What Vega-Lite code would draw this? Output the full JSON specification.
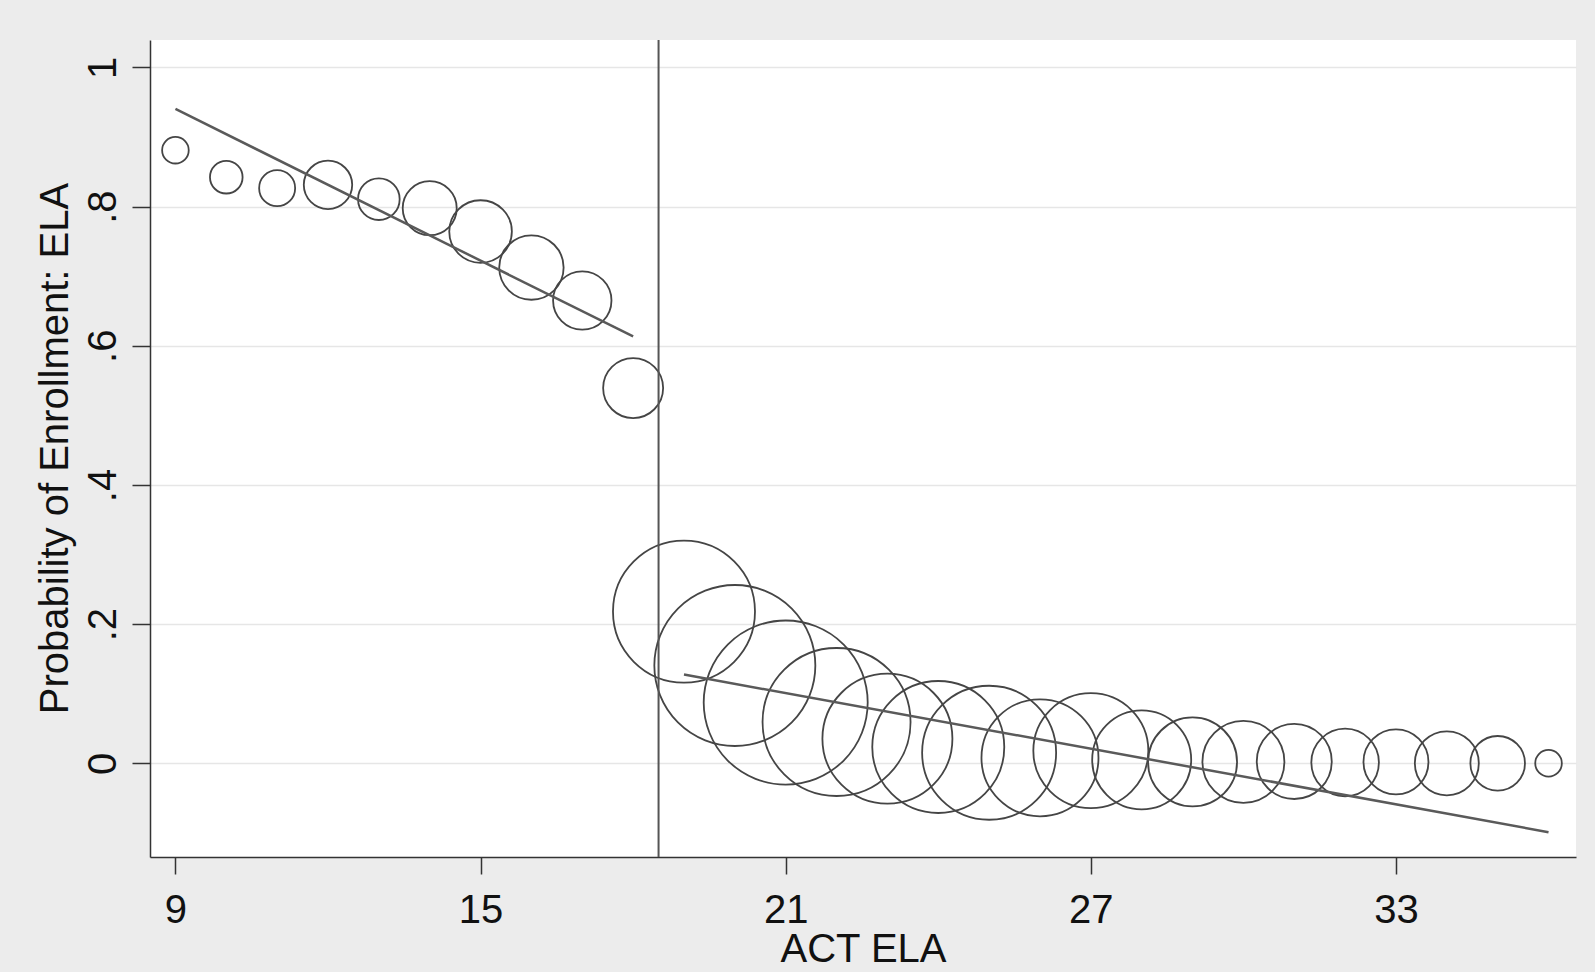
{
  "$schema": "https://vega.github.io/schema/vega-lite/v6.json",
  "width": 1426,
  "height": 817,
  "autosize": {"type": "none"},
  "padding": {"left": 150, "top": 40, "right": 19, "bottom": 115},
  "background": "#ececec",
  "config": {
    "view": {"fill": "white", "stroke": null},
    "font": "Liberation Sans",
    "axis": {
      "labelFont": "Liberation Sans",
      "titleFont": "Liberation Sans",
      "labelFontSize": 40,
      "titleFontSize": 40,
      "titleFontWeight": "normal",
      "labelColor": "#111111",
      "titleColor": "#111111",
      "domainColor": "#333333",
      "domainWidth": 1.5,
      "tickColor": "#333333",
      "tickWidth": 1.5
    }
  },
  "datasets": {
    "bins": [
      {"act": 9, "prob": 0.8811, "n": 177},
      {"act": 10, "prob": 0.8423, "n": 266},
      {"act": 11, "prob": 0.8265, "n": 324},
      {"act": 12, "prob": 0.8313, "n": 586},
      {"act": 13, "prob": 0.8107, "n": 433},
      {"act": 14, "prob": 0.7978, "n": 729},
      {"act": 15, "prob": 0.7642, "n": 980},
      {"act": 16, "prob": 0.7125, "n": 1037},
      {"act": 17, "prob": 0.6651, "n": 853},
      {"act": 18, "prob": 0.5393, "n": 900},
      {"act": 19, "prob": 0.218, "n": 5041},
      {"act": 20, "prob": 0.1405, "n": 6480},
      {"act": 21, "prob": 0.0873, "n": 6724},
      {"act": 22, "prob": 0.0593, "n": 5476},
      {"act": 23, "prob": 0.0353, "n": 4225},
      {"act": 24, "prob": 0.0234, "n": 4356},
      {"act": 25, "prob": 0.0151, "n": 4489},
      {"act": 26, "prob": 0.0079, "n": 3422},
      {"act": 27, "prob": 0.0181, "n": 3306},
      {"act": 28, "prob": 0.005, "n": 2450},
      {"act": 29, "prob": 0.0019, "n": 1980},
      {"act": 30, "prob": 0.0019, "n": 1681},
      {"act": 31, "prob": 0.0026, "n": 1406},
      {"act": 32, "prob": 0.0011, "n": 1142},
      {"act": 33, "prob": 0.0019, "n": 1056},
      {"act": 34, "prob": 0.0, "n": 1024},
      {"act": 35, "prob": 0.0, "n": 745},
      {"act": 36, "prob": 0.0, "n": 177}
    ],
    "fit": [
      {"side": "below", "act": 9, "fit": 0.9404},
      {"side": "below", "act": 18, "fit": 0.6134},
      {"side": "above", "act": 19, "fit": 0.1275},
      {"side": "above", "act": 36, "fit": -0.099}
    ],
    "cutoff": [{"cut": 18.5}]
  },
  "layer": [
    {
      "data": {"name": "bins"},
      "mark": {"type": "point", "shape": "circle", "filled": false, "stroke": "#454545", "strokeWidth": 1.8, "opacity": 1},
      "encoding": {
        "x": {
          "field": "act", "type": "quantitative", "title": "ACT ELA",
          "scale": {"domain": [8.5, 36.54], "nice": false, "zero": false},
          "axis": {"values": [9, 15, 21, 27, 33], "grid": false, "tickSize": 17, "labelPadding": 16, "labelFlush": false, "titlePadding": -1}
        },
        "y": {
          "field": "prob", "type": "quantitative", "title": "Probability of Enrollment: ELA",
          "scale": {"domain": [-0.1347, 1.0395], "nice": false, "zero": false},
          "axis": {
            "values": [0, 0.2, 0.4, 0.6, 0.8, 1],
            "labelExpr": "datum.value == 0 ? '0' : datum.value == 1 ? '1' : '.' + round(datum.value * 10)",
            "grid": true, "gridColor": "#e6e6e6", "gridWidth": 1.5,
            "tickSize": 18, "labelPadding": 17, "labelAngle": -90, "labelAlign": "center", "labelBaseline": "alphabetic",
            "titleAngle": -90, "titleBaseline": "alphabetic", "titleX": -83, "titleY": 408, "titleAlign": "center"
          }
        },
        "size": {"field": "n", "type": "quantitative", "scale": {"domain": [0, 10000], "range": [0, 40000]}, "legend": null}
      }
    },
    {
      "data": {"name": "fit"},
      "mark": {"type": "line", "color": "#5a5a5a", "strokeWidth": 2.5},
      "encoding": {
        "x": {"field": "act", "type": "quantitative", "title": "ACT ELA"},
        "y": {"field": "fit", "type": "quantitative", "title": "Probability of Enrollment: ELA"},
        "detail": {"field": "side", "type": "nominal"}
      }
    },
    {
      "data": {"name": "cutoff"},
      "mark": {"type": "rule", "color": "#555555", "strokeWidth": 2},
      "encoding": {
        "x": {"field": "cut", "type": "quantitative", "title": "ACT ELA"}
      }
    }
  ]
}
